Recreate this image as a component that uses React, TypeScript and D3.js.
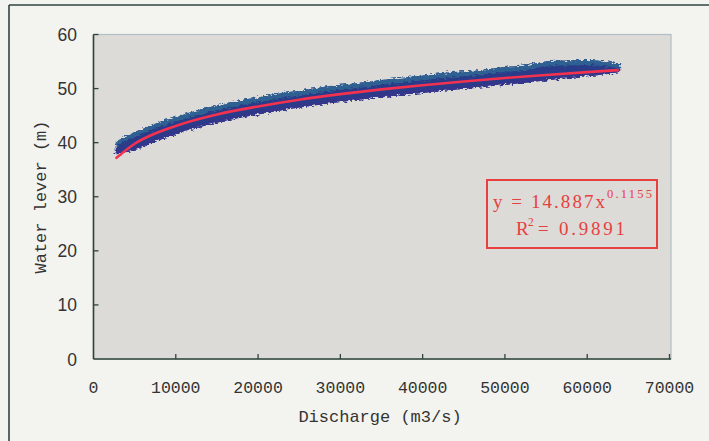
import React from 'react';
import * as d3 from 'd3';

const W = 709;
const H = 441;

const xTicks = [0, 10000, 20000, 30000, 40000, 50000, 60000, 70000];
const yTicks = [0, 10, 20, 30, 40, 50, 60];

// Scatter cloud envelope (discharge, upper / lower water level)
const bandQ = [2700, 3500, 5000, 7500, 10000, 12500, 15000, 17500, 20000, 22500, 25000, 27500, 30000, 32500, 35000, 37500, 40000, 42500, 45000, 47500, 50000, 52500, 55000, 57500, 60000, 62500, 64000];
const bandUpper = [40.0, 40.9, 41.9, 43.5, 44.8, 45.9, 46.9, 47.7, 48.4, 49.1, 49.6, 50.2, 50.7, 51.1, 51.6, 52.0, 52.4, 52.9, 53.2, 53.5, 54.0, 54.3, 55.0, 55.2, 55.3, 55.0, 54.5];
const bandLower = [37.8, 38.1, 38.6, 40.2, 41.5, 42.7, 43.7, 44.5, 45.2, 45.9, 46.5, 47.0, 47.5, 48.0, 48.4, 48.8, 49.2, 49.6, 49.9, 50.3, 50.7, 51.1, 51.5, 51.9, 52.3, 52.7, 53.1];

// Fitted power trend line
const fitQ = [2800, 5000, 7500, 10000, 15000, 20000, 25000, 30000, 35000, 40000, 45000, 50000, 55000, 60000, 63700];
const fitH = [37.2, 39.8, 41.7, 43.1, 45.2, 46.7, 47.95, 48.97, 49.85, 50.62, 51.32, 51.95, 52.52, 53.05, 53.42];

const eqMain = 'y = 14.887x';
const eqExp = '0.1155';
const r2Value = '= 0.9891';

export default function App() {
  const left = 93.5, right = 671, top = 34.5, bottom = 359;
  const x = d3.scaleLinear().domain([0, 70000]).range([left, 669.5]);
  const y = d3.scaleLinear().domain([0, 60]).range([bottom, top]);

  const bandData = bandQ.map((q, i) => ({ q, hi: bandUpper[i], lo: bandLower[i] }));
  const bandArea = d3.area<any>()
    .x(d => x(d.q))
    .y0(d => y(d.lo))
    .y1(d => y(d.hi))
    .curve(d3.curveMonotoneX);
  const topArea = d3.area<any>()
    .x(d => x(d.q))
    .y0(d => y(d.hi) + 5)
    .y1(d => y(d.hi))
    .curve(d3.curveMonotoneX);
  const bottomArea = d3.area<any>()
    .x(d => x(d.q))
    .y0(d => y(d.lo))
    .y1(d => y(d.lo) - 3)
    .curve(d3.curveMonotoneX);
  const fitLine = d3.line<any>()
    .x((d, i) => x(fitQ[i]))
    .y((d, i) => y(fitH[i]))
    .curve(d3.curveMonotoneX);

  const axisColor = '#2f4438';
  const monoFont = '"Liberation Mono", "DejaVu Sans Mono", monospace';
  const sansFont = '"Liberation Sans", Arial, sans-serif';
  const serifFont = '"Liberation Serif", "Times New Roman", serif';
  const red = '#e8403f';

  return (
    <svg width={W} height={H} viewBox={`0 0 ${W} ${H}`}
      style={{ position: 'absolute', left: 0, top: 0, display: 'block' }}>
      <defs>
        <filter id="rough" x="-5%" y="-30%" width="110%" height="160%">
          <feTurbulence type="fractalNoise" baseFrequency="0.25 0.7" numOctaves="2" seed="7" result="n" />
          <feDisplacementMap in="SourceGraphic" in2="n" scale="6" xChannelSelector="R" yChannelSelector="G" />
        </filter>
      </defs>
      {/* page background */}
      <rect x={0} y={0} width={W} height={H} fill="#f3f3ef" />
      {/* outer frame */}
      <line x1={9} y1={5} x2={W} y2={5} stroke="#2e4442" strokeWidth={1.6} />
      <line x1={9} y1={5} x2={9} y2={H} stroke="#2e4442" strokeWidth={1.6} />

      {/* plot area */}
      <rect x={left} y={top} width={right - left} height={bottom - top} fill="#dddbd8" stroke="#b3bec5" strokeWidth={1.2} />

      {/* scatter band */}
      <g filter="url(#rough)">
        <path d={bandArea(bandData) || ''} fill="#2a3a8a" />
        <path d={topArea(bandData) || ''} fill="#2f6a92" opacity={0.8} />
        <path d={bottomArea(bandData) || ''} fill="#35348c" opacity={0.9} />
      </g>
      {/* trend line */}
      <path d={fitLine(fitQ) || ''} fill="none" stroke="#f2324f" strokeWidth={2.6} strokeLinecap="round" />

      {/* axes */}
      <line x1={left} y1={bottom} x2={right} y2={bottom} stroke={axisColor} strokeWidth={1.6} />
      <line x1={left} y1={top} x2={left} y2={bottom} stroke={axisColor} strokeWidth={1.6} />
      {xTicks.map(t => (
        <g key={'x' + t}>
          {t > 0 && <line x1={x(t)} x2={x(t)} y1={bottom} y2={bottom - 5} stroke={axisColor} strokeWidth={1.3} />}
          <text x={x(t)} y={393} textAnchor="middle" fontFamily={monoFont} fontSize={16.5} fill="#333">{t}</text>
        </g>
      ))}
      {yTicks.map(t => (
        <g key={'y' + t}>
          {t > 0 && <line x1={left} x2={left + 5} y1={y(t)} y2={y(t)} stroke={axisColor} strokeWidth={1.3} />}
          <text x={77} y={y(t) + 6.5} textAnchor="end" fontFamily={sansFont} fontSize={17.5} fill="#333">{t}</text>
        </g>
      ))}

      {/* axis titles */}
      <text x={380} y={422} textAnchor="middle" fontFamily={monoFont} fontSize={17} fill="#333">Discharge (m3/s)</text>
      <text transform="translate(46,197) rotate(-90)" textAnchor="middle" fontFamily={monoFont} fontSize={17} fill="#333">Water lever (m)</text>

      {/* equation box */}
      <rect x={487} y={180} width={170} height={68} fill="none" stroke={red} strokeWidth={2} />
      <text x={493} y={208} fontFamily={serifFont} fontSize={19} fill={red} textLength={112} lengthAdjust="spacing">{eqMain}</text>
      <text x={607} y={198} fontFamily={serifFont} fontSize={12.5} fill={red} textLength={45} lengthAdjust="spacing">{eqExp}</text>
      <text x={516} y={235} fontFamily={serifFont} fontSize={19} fill={red}>R</text>
      <text x={528} y={226} fontFamily={serifFont} fontSize={11.5} fill={red}>2</text>
      <text x={538} y={235} fontFamily={serifFont} fontSize={19} fill={red} textLength={87} lengthAdjust="spacing">{r2Value}</text>
    </svg>
  );
}
